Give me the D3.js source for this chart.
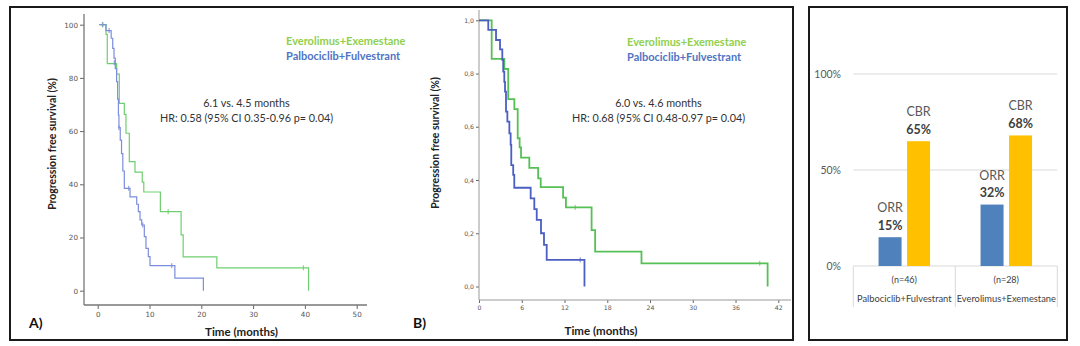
<!DOCTYPE html>
<html><head><meta charset="utf-8">
<script src="https://cdn.jsdelivr.net/npm/d3@7"></script>
<style>body{margin:0;background:#fff}svg{display:block}</style>
</head><body>
<svg id="c" width="1080" height="346"></svg>
<script>
// ---------- Panel A data (months, % PFS) ----------
const kmA_green_t = [0.3, 1.6, 1.85, 3.65, 4.17, 5.14, 5.46, 6.1, 7.2, 8.6, 8.9, 12.1, 16.1, 16.5, 23.0, 40.7, 40.7];
const kmA_green_s = [100, 96.4, 85.4, 81.4, 70.4, 66.3, 59.2, 48.5, 44.6, 40.8, 37.1, 29.7, 21.0, 12.7, 8.6, 8.6, 0];
const censA_green_t = [0.9, 13.6, 39.7];
const censA_green_s = [100, 29.7, 8.6];
const kmA_blue_t = [0.3, 1.6, 2.6, 2.9, 3.15, 3.4, 3.65, 3.85, 4.0, 4.1, 4.35, 4.6, 4.85, 5.14, 6.24, 7.53, 7.85, 8.17, 8.5, 9.0, 9.32, 9.77, 10.1, 14.9, 20.4, 20.4];
const kmA_blue_s = [100, 97.8, 94.9, 91.1, 87.4, 83.5, 78.6, 72.0, 66.0, 61.3, 56.6, 51.5, 45.0, 38.5, 35.3, 32.5, 29.7, 26.6, 24.7, 20.3, 15.9, 12.8, 9.4, 4.7, 4.7, 0];
const censA_blue_t = [1.0, 2.2, 3.2, 4.1, 6.0, 8.7, 14.3];
const censA_blue_s = [100, 97.8, 85.7, 61.3, 38.5, 24.7, 9.4];
const ticksA_x = [0, 10, 20, 30, 40, 50];
const ticksA_y = [0, 20, 40, 60, 80, 100];

// ---------- Panel B data (months, proportion PFS) ----------
const kmB_green_t = [0, 1.78, 3.56, 4.1, 4.96, 5.43, 5.7, 5.9, 7.06, 8.3, 8.66, 11.8, 12.2, 15.8, 16.3, 22.8, 40.5, 40.5];
const kmB_green_s = [1.0, 0.855, 0.817, 0.704, 0.666, 0.557, 0.523, 0.484, 0.446, 0.406, 0.373, 0.334, 0.297, 0.212, 0.131, 0.087, 0.087, 0];
const censB_green_t = [13.5, 39.4];
const censB_green_s = [0.297, 0.087];
const kmB_blue_t = [0, 1.3, 2.39, 2.95, 3.27, 3.4, 3.55, 3.65, 3.79, 3.98, 4.26, 4.44, 4.53, 4.8, 4.95, 7.25, 7.76, 8.1, 8.7, 9.12, 9.5, 14.8, 14.8];
const kmB_blue_s = [1.0, 0.964, 0.926, 0.891, 0.851, 0.807, 0.769, 0.732, 0.657, 0.619, 0.575, 0.532, 0.456, 0.419, 0.371, 0.331, 0.291, 0.25, 0.2, 0.156, 0.1, 0.1, 0];
const censB_blue_t = [14.2];
const censB_blue_s = [0.1];
const ticksB_x = [0, 6, 12, 18, 24, 30, 36, 42];
const ticksB_y = [0, 0.2, 0.4, 0.6, 0.8, 1.0];

// ---------- Panel C data ----------
const barCategories = ["Palbociclib+Fulvestrant", "Everolimus+Exemestane"];
const barN = ["(n=46)", "(n=28)"];
const barSeries = ["ORR", "CBR"];
const orrValues = [15, 32];
const cbrValues = [65, 68];
const ticksC_y = [0, 50, 100];

const legendLabels = ["Everolimus+Exemestane", "Palbociclib+Fulvestrant"];
const medianA = "6.1 vs. 4.5 months", hrA = "HR: 0.58 (95% CI 0.35-0.96 p= 0.04)";
const medianB = "6.0 vs. 4.6 months", hrB = "HR: 0.68 (95% CI 0.48-0.97 p= 0.04)";

const svg = d3.select("#c");
const F = "Lato, 'Open Sans', sans-serif";

// frames
svg.append("rect").attr("x", 10).attr("y", 7).attr("width", 783).attr("height", 333)
  .attr("fill", "none").attr("stroke", "#1a1a1a").attr("stroke-width", 2);
svg.append("rect").attr("x", 809).attr("y", 7).attr("width", 258).attr("height", 333)
  .attr("fill", "none").attr("stroke", "#1a1a1a").attr("stroke-width", 2);

function kmCurve(g, ts, ss, x, y, color, w, op) {
  const pts = ts.map((t, i) => [t, ss[i]]);
  g.append("path").datum(pts)
    .attr("d", d3.line().x(d => x(d[0])).y(d => y(d[1])).curve(d3.curveStepAfter))
    .attr("fill", "none").attr("stroke", color).attr("stroke-width", w).attr("stroke-opacity", op);
}
function censors(g, ts, ss, x, y, color, w, h) {
  const pts = ts.map((t, i) => [t, ss[i]]);
  g.selectAll(null).data(pts).enter().append("line")
    .attr("x1", d => x(d[0])).attr("x2", d => x(d[0]))
    .attr("y1", d => y(d[1]) - h).attr("y2", d => y(d[1]) + h)
    .attr("stroke", color).attr("stroke-width", w);
}
function styleAxis(g, fs, col) {
  g.select(".domain").remove();
  g.selectAll("line").attr("stroke", "#666");
  g.selectAll("text").attr("font-family", "'DejaVu Sans', sans-serif").attr("font-size", fs).attr("fill", col);
}

// ---------- Panel A ----------
{
  const g = svg.append("g");
  const x = d3.scaleLinear().domain([0, 50]).range([97.7, 356.7]);
  const y = d3.scaleLinear().domain([0, 100]).range([290.7, 24.7]);
  const ax = g.append("g").attr("transform", "translate(84,0)")
    .call(d3.axisLeft(y).tickValues(ticksA_y).tickSize(4).tickPadding(2));
  styleAxis(ax, 7.2, "#555");
  const bx = g.append("g").attr("transform", "translate(0,305)")
    .call(d3.axisBottom(x).tickValues(ticksA_x).tickSize(4).tickPadding(3));
  styleAxis(bx, 7.2, "#555");
  g.append("line").attr("x1", 84).attr("x2", 84).attr("y1", 14).attr("y2", 305).attr("stroke", "#777").attr("stroke-width", 1.3);
  g.append("line").attr("x1", 84).attr("x2", 367).attr("y1", 305).attr("y2", 305).attr("stroke", "#777").attr("stroke-width", 1.3);

  kmCurve(g, kmA_green_t, kmA_green_s, x, y, "#6fcf6f", 1.2, 1);
  kmCurve(g, kmA_blue_t, kmA_blue_s, x, y, "#7c8ddc", 1.2, 1);
  censors(g, censA_green_t, censA_green_s, x, y, "#6fcf6f", 1, 2.5);
  censors(g, censA_blue_t, censA_blue_s, x, y, "#7c8ddc", 1, 2.5);

  g.append("text").attr("transform", "translate(56,144) rotate(-90)").attr("text-anchor", "middle")
    .attr("font-family", F).attr("font-weight", "bold").attr("font-size", 10.5).attr("fill", "#222")
    .text("Progression free survival (%)");
  g.append("text").attr("x", 241.5).attr("y", 335.5).attr("text-anchor", "middle")
    .attr("font-family", F).attr("font-weight", "bold").attr("font-size", 11.5).attr("fill", "#222").text("Time (months)");
  g.append("text").attr("x", 29).attr("y", 328).attr("font-family", F).attr("font-weight", "bold")
    .attr("font-size", 14).attr("fill", "#111").text("A)");
  g.append("text").attr("x", 286).attr("y", 44.5).attr("font-family", F).attr("font-weight", "bold")
    .attr("font-size", 11).attr("fill", "#8fd04f").text(legendLabels[0]);
  g.append("text").attr("x", 286).attr("y", 60).attr("font-family", F).attr("font-weight", "bold")
    .attr("font-size", 11).attr("fill", "#4f74c4").text(legendLabels[1]);
  g.append("text").attr("x", 246.5).attr("y", 107).attr("text-anchor", "middle").attr("font-family", F)
    .attr("font-size", 10.8).attr("fill", "#333").text(medianA);
  g.append("text").attr("x", 246.5).attr("y", 122).attr("text-anchor", "middle").attr("font-family", F)
    .attr("font-size", 10.8).attr("fill", "#333").text(hrA);
}

// ---------- Panel B ----------
{
  const g = svg.append("g");
  const x = d3.scaleLinear().domain([0, 42]).range([479, 778.3]);
  const y = d3.scaleLinear().domain([0, 1]).range([286.5, 20.3]);
  const ax = g.append("g").attr("transform", "translate(479,0)")
    .call(d3.axisLeft(y).tickValues(ticksB_y).tickSize(3).tickPadding(2)
      .tickFormat(d => d3.format(".1f")(d).replace(".", ",")));
  styleAxis(ax, 6.2, "#555");
  const bx = g.append("g").attr("transform", "translate(0,300)")
    .call(d3.axisBottom(x).tickValues(ticksB_x).tickSize(3).tickPadding(3));
  styleAxis(bx, 6.2, "#555");
  g.append("line").attr("x1", 479).attr("x2", 479).attr("y1", 10).attr("y2", 300).attr("stroke", "#999").attr("stroke-width", 1);
  g.append("line").attr("x1", 479).attr("x2", 791).attr("y1", 300).attr("y2", 300).attr("stroke", "#999").attr("stroke-width", 1);

  kmCurve(g, kmB_green_t, kmB_green_s, x, y, "#55c055", 1.8, 1);
  kmCurve(g, kmB_blue_t, kmB_blue_s, x, y, "#4b5fc2", 1.8, 1);
  censors(g, censB_green_t, censB_green_s, x, y, "#55c055", 0.8, 2.5);
  censors(g, censB_blue_t, censB_blue_s, x, y, "#4b5fc2", 0.8, 2.5);

  g.append("text").attr("transform", "translate(439,143) rotate(-90)").attr("text-anchor", "middle")
    .attr("font-family", F).attr("font-weight", "bold").attr("font-size", 10.5).attr("fill", "#222")
    .text("Progression free survival (%)");
  g.append("text").attr("x", 601).attr("y", 335).attr("text-anchor", "middle")
    .attr("font-family", F).attr("font-weight", "bold").attr("font-size", 11.5).attr("fill", "#222").text("Time (months)");
  g.append("text").attr("x", 413).attr("y", 328).attr("font-family", F).attr("font-weight", "bold")
    .attr("font-size", 14).attr("fill", "#111").text("B)");
  g.append("text").attr("x", 627).attr("y", 46).attr("font-family", F).attr("font-weight", "bold")
    .attr("font-size", 11).attr("fill", "#8fd04f").text(legendLabels[0]);
  g.append("text").attr("x", 627).attr("y", 60.5).attr("font-family", F).attr("font-weight", "bold")
    .attr("font-size", 11).attr("fill", "#4f74c4").text(legendLabels[1]);
  g.append("text").attr("x", 658.5).attr("y", 107).attr("text-anchor", "middle").attr("font-family", F)
    .attr("font-size", 10.8).attr("fill", "#333").text(medianB);
  g.append("text").attr("x", 658.5).attr("y", 122).attr("text-anchor", "middle").attr("font-family", F)
    .attr("font-size", 10.8).attr("fill", "#333").text(hrB);
}

// ---------- Panel C ----------
{
  const g = svg.append("g");
  const x0 = d3.scaleBand().domain(barCategories).range([853.3, 1057.3]).padding(0);
  const x1 = d3.scaleBand().domain(barSeries).range([0, x0.bandwidth()]).paddingInner(0.193).paddingOuter(0.886);
  const y = d3.scaleLinear().domain([0, 100]).range([266, 74]);
  const colors = {ORR: "#4f81bd", CBR: "#ffc000"};

  g.selectAll(".grid").data(ticksC_y).enter().append("line")
    .attr("x1", 853.3).attr("x2", 1057.3).attr("y1", d => y(d)).attr("y2", d => y(d))
    .attr("stroke", "#d9d9d9").attr("stroke-width", 1);
  g.selectAll(".yl").data(ticksC_y).enter().append("text")
    .attr("x", 841).attr("y", d => y(d) + 3.8).attr("text-anchor", "end")
    .attr("font-family", F).attr("font-size", 10.5).attr("fill", "#595959").text(d => d + "%");
  // category separators
  const seps = [...barCategories.map(c => x0(c)), x0.range()[1]];
  g.selectAll(".sep").data(seps).enter().append("line")
    .attr("x1", d => d).attr("x2", d => d).attr("y1", 266).attr("y2", 307)
    .attr("stroke", "#d9d9d9").attr("stroke-width", 1);

  const rows = [];
  barCategories.forEach((c, i) => {
    rows.push({c, s: "ORR", v: orrValues[i]});
    rows.push({c, s: "CBR", v: cbrValues[i]});
  });
  g.selectAll(".bar").data(rows).enter().append("rect")
    .attr("x", d => x0(d.c) + x1(d.s)).attr("width", x1.bandwidth())
    .attr("y", d => y(d.v)).attr("height", d => y(0) - y(d.v)).attr("fill", d => colors[d.s]);
  g.selectAll(".lv").data(rows).enter().append("text")
    .attr("x", d => x0(d.c) + x1(d.s) + x1.bandwidth() / 2).attr("y", d => y(d.v) - 7.5)
    .attr("text-anchor", "middle").attr("font-family", F).attr("font-weight", "bold")
    .attr("font-size", 12.5).attr("fill", "#404040").text(d => d.v + "%");
  g.selectAll(".ls").data(rows).enter().append("text")
    .attr("x", d => x0(d.c) + x1(d.s) + x1.bandwidth() / 2).attr("y", d => y(d.v) - 25)
    .attr("text-anchor", "middle").attr("font-family", F)
    .attr("font-size", 12.5).attr("fill", "#595959").text(d => d.s);

  g.selectAll(".n").data(barCategories).enter().append("text")
    .attr("x", d => x0(d) + x0.bandwidth() / 2).attr("y", 282.5).attr("text-anchor", "middle")
    .attr("font-family", F).attr("font-size", 9).attr("fill", "#404040").text((d, i) => barN[i]);
  g.selectAll(".cat").data(barCategories).enter().append("text")
    .attr("x", d => x0(d) + x0.bandwidth() / 2).attr("y", 301.5).attr("text-anchor", "middle")
    .attr("font-family", F).attr("font-size", 9.3).attr("fill", "#404040").text(d => d);
}
</script>
</body></html>
